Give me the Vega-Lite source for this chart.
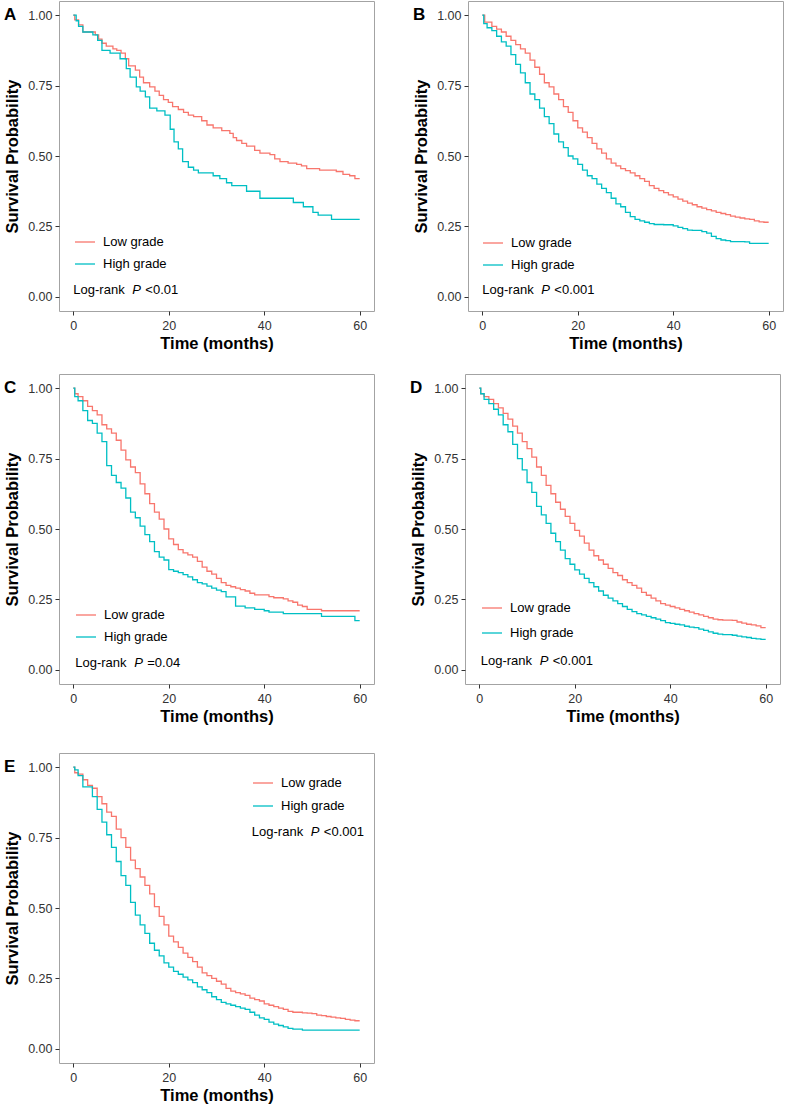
{
  "$schema": "https://vega.github.io/schema/vega-lite/v6.json",
  "padding": {"left": 3, "top": 0, "right": 0, "bottom": 0},
  "config": {
    "font": "Liberation Sans",
    "view": {"stroke": "#a3a3a3", "strokeWidth": 1},
    "axis": {"domain": false, "grid": false, "tickColor": "#333333", "tickSize": 4, "labelFont": "Liberation Sans", "labelFontSize": 12.5, "labelColor": "#333333", "titleFont": "Liberation Sans", "titleFontSize": 16.5, "titleFontWeight": "bold", "titleColor": "#000000"},
    "axisX": {"labelPadding": 4, "titlePadding": 4},
    "axisY": {"labelPadding": 3, "titlePadding": 7},
    "legend": {"symbolType": "stroke", "symbolSize": 400, "symbolStrokeWidth": 1.5, "labelFontSize": 13, "labelFont": "Liberation Sans", "labelColor": "#000000", "labelOffset": 7, "rowPadding": 4, "padding": 0},
    "line": {"interpolate": "step-after", "strokeWidth": 1.3},
    "text": {"font": "Liberation Sans", "fontSize": 13, "align": "left", "baseline": "middle", "color": "#000000"}
  },
  "datasets": {
    "A": [
      {"t":0,"s":1,"g":"Low grade"},{"t":0.3,"s":0.983,"g":"Low grade"},{"t":1.1,"s":0.965,"g":"Low grade"},{"t":2,"s":0.94,"g":"Low grade"},{"t":4.6,"s":0.93,"g":"Low grade"},{"t":5.3,"s":0.915,"g":"Low grade"},{"t":6,"s":0.9,"g":"Low grade"},{"t":6.9,"s":0.89,"g":"Low grade"},{"t":8.3,"s":0.88,"g":"Low grade"},{"t":9.1,"s":0.875,"g":"Low grade"},{"t":10,"s":0.865,"g":"Low grade"},{"t":10.9,"s":0.845,"g":"Low grade"},{"t":11.6,"s":0.82,"g":"Low grade"},{"t":13,"s":0.805,"g":"Low grade"},{"t":13.9,"s":0.78,"g":"Low grade"},{"t":14.7,"s":0.76,"g":"Low grade"},{"t":16,"s":0.745,"g":"Low grade"},{"t":17.1,"s":0.73,"g":"Low grade"},{"t":18,"s":0.715,"g":"Low grade"},{"t":18.9,"s":0.7,"g":"Low grade"},{"t":19.9,"s":0.69,"g":"Low grade"},{"t":20.8,"s":0.675,"g":"Low grade"},{"t":22,"s":0.665,"g":"Low grade"},{"t":23.1,"s":0.655,"g":"Low grade"},{"t":24.1,"s":0.645,"g":"Low grade"},{"t":25.2,"s":0.64,"g":"Low grade"},{"t":26.9,"s":0.625,"g":"Low grade"},{"t":28,"s":0.61,"g":"Low grade"},{"t":29.3,"s":0.6,"g":"Low grade"},{"t":31.1,"s":0.59,"g":"Low grade"},{"t":32.8,"s":0.58,"g":"Low grade"},{"t":33.5,"s":0.565,"g":"Low grade"},{"t":34.2,"s":0.555,"g":"Low grade"},{"t":35.3,"s":0.545,"g":"Low grade"},{"t":36.3,"s":0.535,"g":"Low grade"},{"t":38,"s":0.52,"g":"Low grade"},{"t":39.1,"s":0.51,"g":"Low grade"},{"t":41.2,"s":0.505,"g":"Low grade"},{"t":42.2,"s":0.49,"g":"Low grade"},{"t":43.3,"s":0.48,"g":"Low grade"},{"t":45,"s":0.475,"g":"Low grade"},{"t":46.8,"s":0.47,"g":"Low grade"},{"t":47.8,"s":0.465,"g":"Low grade"},{"t":48.9,"s":0.455,"g":"Low grade"},{"t":51.6,"s":0.45,"g":"Low grade"},{"t":55.1,"s":0.445,"g":"Low grade"},{"t":56.5,"s":0.435,"g":"Low grade"},{"t":57.9,"s":0.43,"g":"Low grade"},{"t":59,"s":0.42,"g":"Low grade"},{"t":60,"s":0.42,"g":"Low grade"},
      {"t":0,"s":1,"g":"High grade"},{"t":0.6,"s":0.98,"g":"High grade"},{"t":1.1,"s":0.96,"g":"High grade"},{"t":2,"s":0.94,"g":"High grade"},{"t":4.1,"s":0.93,"g":"High grade"},{"t":5.1,"s":0.91,"g":"High grade"},{"t":6,"s":0.875,"g":"High grade"},{"t":7.7,"s":0.865,"g":"High grade"},{"t":9.8,"s":0.845,"g":"High grade"},{"t":11.1,"s":0.81,"g":"High grade"},{"t":11.9,"s":0.78,"g":"High grade"},{"t":13.2,"s":0.745,"g":"High grade"},{"t":14,"s":0.73,"g":"High grade"},{"t":15.1,"s":0.71,"g":"High grade"},{"t":16,"s":0.67,"g":"High grade"},{"t":17.5,"s":0.66,"g":"High grade"},{"t":19.2,"s":0.645,"g":"High grade"},{"t":20.3,"s":0.595,"g":"High grade"},{"t":21.1,"s":0.55,"g":"High grade"},{"t":22,"s":0.525,"g":"High grade"},{"t":22.9,"s":0.48,"g":"High grade"},{"t":24.1,"s":0.46,"g":"High grade"},{"t":25.2,"s":0.45,"g":"High grade"},{"t":26.2,"s":0.44,"g":"High grade"},{"t":29.3,"s":0.43,"g":"High grade"},{"t":30.7,"s":0.42,"g":"High grade"},{"t":32.1,"s":0.405,"g":"High grade"},{"t":33.2,"s":0.395,"g":"High grade"},{"t":36.3,"s":0.375,"g":"High grade"},{"t":39.1,"s":0.35,"g":"High grade"},{"t":46.1,"s":0.335,"g":"High grade"},{"t":48.2,"s":0.32,"g":"High grade"},{"t":50.2,"s":0.3,"g":"High grade"},{"t":51.3,"s":0.29,"g":"High grade"},{"t":54.1,"s":0.275,"g":"High grade"},{"t":60,"s":0.275,"g":"High grade"}
    ],
    "B": [
      {"t":0,"s":1,"g":"Low grade"},{"t":0.5,"s":0.975,"g":"Low grade"},{"t":2,"s":0.96,"g":"Low grade"},{"t":3,"s":0.95,"g":"Low grade"},{"t":4,"s":0.94,"g":"Low grade"},{"t":5,"s":0.925,"g":"Low grade"},{"t":6,"s":0.91,"g":"Low grade"},{"t":7,"s":0.895,"g":"Low grade"},{"t":8,"s":0.88,"g":"Low grade"},{"t":9,"s":0.865,"g":"Low grade"},{"t":10,"s":0.84,"g":"Low grade"},{"t":11,"s":0.815,"g":"Low grade"},{"t":12,"s":0.79,"g":"Low grade"},{"t":13,"s":0.76,"g":"Low grade"},{"t":14,"s":0.745,"g":"Low grade"},{"t":15,"s":0.72,"g":"Low grade"},{"t":16,"s":0.7,"g":"Low grade"},{"t":17,"s":0.675,"g":"Low grade"},{"t":18,"s":0.655,"g":"Low grade"},{"t":19,"s":0.625,"g":"Low grade"},{"t":20,"s":0.6,"g":"Low grade"},{"t":21,"s":0.585,"g":"Low grade"},{"t":22,"s":0.565,"g":"Low grade"},{"t":23,"s":0.545,"g":"Low grade"},{"t":24,"s":0.525,"g":"Low grade"},{"t":25,"s":0.51,"g":"Low grade"},{"t":26,"s":0.49,"g":"Low grade"},{"t":27,"s":0.475,"g":"Low grade"},{"t":28,"s":0.465,"g":"Low grade"},{"t":29,"s":0.455,"g":"Low grade"},{"t":30,"s":0.448,"g":"Low grade"},{"t":31,"s":0.44,"g":"Low grade"},{"t":32,"s":0.43,"g":"Low grade"},{"t":33,"s":0.42,"g":"Low grade"},{"t":34,"s":0.41,"g":"Low grade"},{"t":35,"s":0.395,"g":"Low grade"},{"t":36,"s":0.385,"g":"Low grade"},{"t":37,"s":0.377,"g":"Low grade"},{"t":38,"s":0.37,"g":"Low grade"},{"t":39,"s":0.362,"g":"Low grade"},{"t":40,"s":0.355,"g":"Low grade"},{"t":41,"s":0.347,"g":"Low grade"},{"t":42,"s":0.34,"g":"Low grade"},{"t":43,"s":0.333,"g":"Low grade"},{"t":44,"s":0.327,"g":"Low grade"},{"t":45,"s":0.32,"g":"Low grade"},{"t":46,"s":0.315,"g":"Low grade"},{"t":47,"s":0.31,"g":"Low grade"},{"t":48,"s":0.305,"g":"Low grade"},{"t":49,"s":0.3,"g":"Low grade"},{"t":50,"s":0.296,"g":"Low grade"},{"t":51,"s":0.292,"g":"Low grade"},{"t":52,"s":0.287,"g":"Low grade"},{"t":53,"s":0.283,"g":"Low grade"},{"t":54,"s":0.28,"g":"Low grade"},{"t":55,"s":0.277,"g":"Low grade"},{"t":56,"s":0.275,"g":"Low grade"},{"t":57,"s":0.27,"g":"Low grade"},{"t":58,"s":0.266,"g":"Low grade"},{"t":59,"s":0.265,"g":"Low grade"},{"t":60,"s":0.265,"g":"Low grade"},
      {"t":0,"s":1,"g":"High grade"},{"t":0.3,"s":0.97,"g":"High grade"},{"t":1,"s":0.955,"g":"High grade"},{"t":2,"s":0.945,"g":"High grade"},{"t":3,"s":0.925,"g":"High grade"},{"t":4,"s":0.905,"g":"High grade"},{"t":5,"s":0.89,"g":"High grade"},{"t":6,"s":0.86,"g":"High grade"},{"t":7,"s":0.825,"g":"High grade"},{"t":8,"s":0.795,"g":"High grade"},{"t":9,"s":0.76,"g":"High grade"},{"t":10,"s":0.72,"g":"High grade"},{"t":11,"s":0.7,"g":"High grade"},{"t":12,"s":0.67,"g":"High grade"},{"t":13,"s":0.64,"g":"High grade"},{"t":14,"s":0.615,"g":"High grade"},{"t":15,"s":0.578,"g":"High grade"},{"t":16,"s":0.55,"g":"High grade"},{"t":17,"s":0.53,"g":"High grade"},{"t":18,"s":0.5,"g":"High grade"},{"t":19,"s":0.49,"g":"High grade"},{"t":20,"s":0.47,"g":"High grade"},{"t":21,"s":0.45,"g":"High grade"},{"t":22,"s":0.43,"g":"High grade"},{"t":23,"s":0.42,"g":"High grade"},{"t":24,"s":0.4,"g":"High grade"},{"t":25,"s":0.385,"g":"High grade"},{"t":26,"s":0.37,"g":"High grade"},{"t":27,"s":0.35,"g":"High grade"},{"t":28,"s":0.33,"g":"High grade"},{"t":29,"s":0.32,"g":"High grade"},{"t":30,"s":0.3,"g":"High grade"},{"t":31,"s":0.285,"g":"High grade"},{"t":32,"s":0.275,"g":"High grade"},{"t":33,"s":0.27,"g":"High grade"},{"t":34,"s":0.265,"g":"High grade"},{"t":35,"s":0.26,"g":"High grade"},{"t":36,"s":0.257,"g":"High grade"},{"t":38,"s":0.256,"g":"High grade"},{"t":40,"s":0.252,"g":"High grade"},{"t":41,"s":0.247,"g":"High grade"},{"t":42,"s":0.242,"g":"High grade"},{"t":43,"s":0.237,"g":"High grade"},{"t":44,"s":0.236,"g":"High grade"},{"t":46,"s":0.232,"g":"High grade"},{"t":47,"s":0.226,"g":"High grade"},{"t":48,"s":0.215,"g":"High grade"},{"t":49,"s":0.207,"g":"High grade"},{"t":50,"s":0.202,"g":"High grade"},{"t":51,"s":0.2,"g":"High grade"},{"t":52,"s":0.196,"g":"High grade"},{"t":55,"s":0.195,"g":"High grade"},{"t":56,"s":0.19,"g":"High grade"},{"t":60,"s":0.19,"g":"High grade"}
    ],
    "C": [
      {"t":0,"s":1,"g":"Low grade"},{"t":0.3,"s":0.98,"g":"Low grade"},{"t":1,"s":0.97,"g":"Low grade"},{"t":2,"s":0.955,"g":"Low grade"},{"t":3,"s":0.935,"g":"Low grade"},{"t":4,"s":0.92,"g":"Low grade"},{"t":5,"s":0.905,"g":"Low grade"},{"t":6,"s":0.87,"g":"Low grade"},{"t":7,"s":0.855,"g":"Low grade"},{"t":8,"s":0.84,"g":"Low grade"},{"t":9,"s":0.815,"g":"Low grade"},{"t":10,"s":0.78,"g":"Low grade"},{"t":11,"s":0.745,"g":"Low grade"},{"t":12,"s":0.72,"g":"Low grade"},{"t":13,"s":0.7,"g":"Low grade"},{"t":14,"s":0.66,"g":"Low grade"},{"t":15,"s":0.625,"g":"Low grade"},{"t":16,"s":0.59,"g":"Low grade"},{"t":17,"s":0.56,"g":"Low grade"},{"t":18,"s":0.535,"g":"Low grade"},{"t":19,"s":0.5,"g":"Low grade"},{"t":20,"s":0.465,"g":"Low grade"},{"t":21,"s":0.445,"g":"Low grade"},{"t":22,"s":0.427,"g":"Low grade"},{"t":23,"s":0.415,"g":"Low grade"},{"t":24,"s":0.408,"g":"Low grade"},{"t":25,"s":0.4,"g":"Low grade"},{"t":26,"s":0.385,"g":"Low grade"},{"t":27,"s":0.365,"g":"Low grade"},{"t":28,"s":0.35,"g":"Low grade"},{"t":29,"s":0.34,"g":"Low grade"},{"t":30,"s":0.325,"g":"Low grade"},{"t":31,"s":0.31,"g":"Low grade"},{"t":32,"s":0.3,"g":"Low grade"},{"t":33,"s":0.295,"g":"Low grade"},{"t":34,"s":0.29,"g":"Low grade"},{"t":35,"s":0.285,"g":"Low grade"},{"t":36,"s":0.28,"g":"Low grade"},{"t":37,"s":0.272,"g":"Low grade"},{"t":38,"s":0.266,"g":"Low grade"},{"t":41,"s":0.26,"g":"Low grade"},{"t":42,"s":0.256,"g":"Low grade"},{"t":44,"s":0.252,"g":"Low grade"},{"t":45,"s":0.245,"g":"Low grade"},{"t":46,"s":0.24,"g":"Low grade"},{"t":47,"s":0.23,"g":"Low grade"},{"t":48,"s":0.225,"g":"Low grade"},{"t":49,"s":0.215,"g":"Low grade"},{"t":52,"s":0.21,"g":"Low grade"},{"t":60,"s":0.21,"g":"Low grade"},
      {"t":0,"s":1,"g":"High grade"},{"t":0.3,"s":0.97,"g":"High grade"},{"t":1,"s":0.955,"g":"High grade"},{"t":2,"s":0.92,"g":"High grade"},{"t":3,"s":0.885,"g":"High grade"},{"t":4,"s":0.875,"g":"High grade"},{"t":5,"s":0.84,"g":"High grade"},{"t":6,"s":0.81,"g":"High grade"},{"t":7,"s":0.725,"g":"High grade"},{"t":8,"s":0.69,"g":"High grade"},{"t":9,"s":0.665,"g":"High grade"},{"t":10,"s":0.645,"g":"High grade"},{"t":11,"s":0.61,"g":"High grade"},{"t":12,"s":0.56,"g":"High grade"},{"t":13,"s":0.54,"g":"High grade"},{"t":14,"s":0.51,"g":"High grade"},{"t":15,"s":0.48,"g":"High grade"},{"t":16,"s":0.455,"g":"High grade"},{"t":17,"s":0.42,"g":"High grade"},{"t":18,"s":0.4,"g":"High grade"},{"t":19,"s":0.39,"g":"High grade"},{"t":20,"s":0.356,"g":"High grade"},{"t":21,"s":0.35,"g":"High grade"},{"t":22,"s":0.345,"g":"High grade"},{"t":23,"s":0.338,"g":"High grade"},{"t":24,"s":0.33,"g":"High grade"},{"t":25,"s":0.32,"g":"High grade"},{"t":26,"s":0.31,"g":"High grade"},{"t":27,"s":0.305,"g":"High grade"},{"t":28,"s":0.297,"g":"High grade"},{"t":29,"s":0.29,"g":"High grade"},{"t":30,"s":0.283,"g":"High grade"},{"t":31,"s":0.278,"g":"High grade"},{"t":32,"s":0.259,"g":"High grade"},{"t":34,"s":0.226,"g":"High grade"},{"t":36,"s":0.22,"g":"High grade"},{"t":38,"s":0.215,"g":"High grade"},{"t":40,"s":0.21,"g":"High grade"},{"t":41,"s":0.205,"g":"High grade"},{"t":44,"s":0.2,"g":"High grade"},{"t":52,"s":0.19,"g":"High grade"},{"t":59,"s":0.175,"g":"High grade"},{"t":60,"s":0.175,"g":"High grade"}
    ],
    "D": [
      {"t":0,"s":1,"g":"Low grade"},{"t":0.3,"s":0.98,"g":"Low grade"},{"t":1,"s":0.97,"g":"Low grade"},{"t":2,"s":0.96,"g":"Low grade"},{"t":3,"s":0.945,"g":"Low grade"},{"t":4,"s":0.93,"g":"Low grade"},{"t":5,"s":0.91,"g":"Low grade"},{"t":6,"s":0.89,"g":"Low grade"},{"t":7,"s":0.865,"g":"Low grade"},{"t":8,"s":0.84,"g":"Low grade"},{"t":9,"s":0.81,"g":"Low grade"},{"t":10,"s":0.785,"g":"Low grade"},{"t":11,"s":0.755,"g":"Low grade"},{"t":12,"s":0.72,"g":"Low grade"},{"t":13,"s":0.69,"g":"Low grade"},{"t":14,"s":0.655,"g":"Low grade"},{"t":15,"s":0.625,"g":"Low grade"},{"t":16,"s":0.595,"g":"Low grade"},{"t":17,"s":0.57,"g":"Low grade"},{"t":18,"s":0.545,"g":"Low grade"},{"t":19,"s":0.52,"g":"Low grade"},{"t":20,"s":0.495,"g":"Low grade"},{"t":21,"s":0.475,"g":"Low grade"},{"t":22,"s":0.45,"g":"Low grade"},{"t":23,"s":0.425,"g":"Low grade"},{"t":24,"s":0.405,"g":"Low grade"},{"t":25,"s":0.39,"g":"Low grade"},{"t":26,"s":0.375,"g":"Low grade"},{"t":27,"s":0.36,"g":"Low grade"},{"t":28,"s":0.345,"g":"Low grade"},{"t":29,"s":0.335,"g":"Low grade"},{"t":30,"s":0.32,"g":"Low grade"},{"t":31,"s":0.31,"g":"Low grade"},{"t":32,"s":0.3,"g":"Low grade"},{"t":33,"s":0.29,"g":"Low grade"},{"t":34,"s":0.275,"g":"Low grade"},{"t":35,"s":0.265,"g":"Low grade"},{"t":36,"s":0.255,"g":"Low grade"},{"t":37,"s":0.245,"g":"Low grade"},{"t":38,"s":0.235,"g":"Low grade"},{"t":39,"s":0.23,"g":"Low grade"},{"t":40,"s":0.225,"g":"Low grade"},{"t":41,"s":0.22,"g":"Low grade"},{"t":42,"s":0.215,"g":"Low grade"},{"t":43,"s":0.21,"g":"Low grade"},{"t":44,"s":0.205,"g":"Low grade"},{"t":45,"s":0.2,"g":"Low grade"},{"t":46,"s":0.195,"g":"Low grade"},{"t":47,"s":0.19,"g":"Low grade"},{"t":48,"s":0.185,"g":"Low grade"},{"t":49,"s":0.18,"g":"Low grade"},{"t":50,"s":0.178,"g":"Low grade"},{"t":51,"s":0.177,"g":"Low grade"},{"t":53,"s":0.176,"g":"Low grade"},{"t":54,"s":0.17,"g":"Low grade"},{"t":55,"s":0.166,"g":"Low grade"},{"t":56,"s":0.162,"g":"Low grade"},{"t":57,"s":0.16,"g":"Low grade"},{"t":58,"s":0.156,"g":"Low grade"},{"t":59,"s":0.15,"g":"Low grade"},{"t":60,"s":0.15,"g":"Low grade"},
      {"t":0,"s":1,"g":"High grade"},{"t":0.3,"s":0.98,"g":"High grade"},{"t":1,"s":0.96,"g":"High grade"},{"t":2,"s":0.945,"g":"High grade"},{"t":3,"s":0.925,"g":"High grade"},{"t":4,"s":0.905,"g":"High grade"},{"t":5,"s":0.87,"g":"High grade"},{"t":6,"s":0.845,"g":"High grade"},{"t":7,"s":0.8,"g":"High grade"},{"t":8,"s":0.75,"g":"High grade"},{"t":9,"s":0.71,"g":"High grade"},{"t":10,"s":0.665,"g":"High grade"},{"t":11,"s":0.63,"g":"High grade"},{"t":12,"s":0.58,"g":"High grade"},{"t":13,"s":0.55,"g":"High grade"},{"t":14,"s":0.52,"g":"High grade"},{"t":15,"s":0.485,"g":"High grade"},{"t":16,"s":0.455,"g":"High grade"},{"t":17,"s":0.425,"g":"High grade"},{"t":18,"s":0.395,"g":"High grade"},{"t":19,"s":0.375,"g":"High grade"},{"t":20,"s":0.355,"g":"High grade"},{"t":21,"s":0.34,"g":"High grade"},{"t":22,"s":0.325,"g":"High grade"},{"t":23,"s":0.31,"g":"High grade"},{"t":24,"s":0.295,"g":"High grade"},{"t":25,"s":0.28,"g":"High grade"},{"t":26,"s":0.265,"g":"High grade"},{"t":27,"s":0.255,"g":"High grade"},{"t":28,"s":0.245,"g":"High grade"},{"t":29,"s":0.235,"g":"High grade"},{"t":30,"s":0.225,"g":"High grade"},{"t":31,"s":0.215,"g":"High grade"},{"t":32,"s":0.207,"g":"High grade"},{"t":33,"s":0.2,"g":"High grade"},{"t":34,"s":0.195,"g":"High grade"},{"t":35,"s":0.19,"g":"High grade"},{"t":36,"s":0.185,"g":"High grade"},{"t":37,"s":0.18,"g":"High grade"},{"t":38,"s":0.175,"g":"High grade"},{"t":39,"s":0.168,"g":"High grade"},{"t":40,"s":0.165,"g":"High grade"},{"t":41,"s":0.162,"g":"High grade"},{"t":42,"s":0.16,"g":"High grade"},{"t":43,"s":0.155,"g":"High grade"},{"t":44,"s":0.152,"g":"High grade"},{"t":45,"s":0.15,"g":"High grade"},{"t":46,"s":0.145,"g":"High grade"},{"t":47,"s":0.14,"g":"High grade"},{"t":48,"s":0.135,"g":"High grade"},{"t":49,"s":0.13,"g":"High grade"},{"t":50,"s":0.127,"g":"High grade"},{"t":51,"s":0.125,"g":"High grade"},{"t":53,"s":0.123,"g":"High grade"},{"t":54,"s":0.12,"g":"High grade"},{"t":55,"s":0.117,"g":"High grade"},{"t":56,"s":0.115,"g":"High grade"},{"t":57,"s":0.112,"g":"High grade"},{"t":58,"s":0.11,"g":"High grade"},{"t":59,"s":0.108,"g":"High grade"},{"t":60,"s":0.108,"g":"High grade"}
    ],
    "E": [
      {"t":0,"s":1,"g":"Low grade"},{"t":0.3,"s":0.98,"g":"Low grade"},{"t":1,"s":0.975,"g":"Low grade"},{"t":2,"s":0.955,"g":"Low grade"},{"t":3,"s":0.935,"g":"Low grade"},{"t":4,"s":0.925,"g":"Low grade"},{"t":5,"s":0.895,"g":"Low grade"},{"t":6,"s":0.87,"g":"Low grade"},{"t":7,"s":0.84,"g":"Low grade"},{"t":8,"s":0.825,"g":"Low grade"},{"t":9,"s":0.78,"g":"Low grade"},{"t":10,"s":0.75,"g":"Low grade"},{"t":11,"s":0.715,"g":"Low grade"},{"t":12,"s":0.67,"g":"Low grade"},{"t":13,"s":0.64,"g":"Low grade"},{"t":14,"s":0.61,"g":"Low grade"},{"t":15,"s":0.58,"g":"Low grade"},{"t":16,"s":0.55,"g":"Low grade"},{"t":17,"s":0.505,"g":"Low grade"},{"t":18,"s":0.47,"g":"Low grade"},{"t":19,"s":0.44,"g":"Low grade"},{"t":20,"s":0.4,"g":"Low grade"},{"t":21,"s":0.38,"g":"Low grade"},{"t":22,"s":0.36,"g":"Low grade"},{"t":23,"s":0.34,"g":"Low grade"},{"t":24,"s":0.325,"g":"Low grade"},{"t":25,"s":0.31,"g":"Low grade"},{"t":26,"s":0.29,"g":"Low grade"},{"t":27,"s":0.27,"g":"Low grade"},{"t":28,"s":0.26,"g":"Low grade"},{"t":29,"s":0.25,"g":"Low grade"},{"t":30,"s":0.24,"g":"Low grade"},{"t":31,"s":0.23,"g":"Low grade"},{"t":32,"s":0.215,"g":"Low grade"},{"t":33,"s":0.205,"g":"Low grade"},{"t":34,"s":0.2,"g":"Low grade"},{"t":35,"s":0.195,"g":"Low grade"},{"t":36,"s":0.19,"g":"Low grade"},{"t":37,"s":0.18,"g":"Low grade"},{"t":38,"s":0.175,"g":"Low grade"},{"t":39,"s":0.17,"g":"Low grade"},{"t":40,"s":0.16,"g":"Low grade"},{"t":41,"s":0.155,"g":"Low grade"},{"t":42,"s":0.15,"g":"Low grade"},{"t":43,"s":0.145,"g":"Low grade"},{"t":44,"s":0.14,"g":"Low grade"},{"t":45,"s":0.133,"g":"Low grade"},{"t":46,"s":0.13,"g":"Low grade"},{"t":48,"s":0.128,"g":"Low grade"},{"t":49,"s":0.127,"g":"Low grade"},{"t":50,"s":0.125,"g":"Low grade"},{"t":51,"s":0.12,"g":"Low grade"},{"t":52,"s":0.118,"g":"Low grade"},{"t":53,"s":0.115,"g":"Low grade"},{"t":54,"s":0.113,"g":"Low grade"},{"t":55,"s":0.11,"g":"Low grade"},{"t":56,"s":0.108,"g":"Low grade"},{"t":57,"s":0.105,"g":"Low grade"},{"t":58,"s":0.102,"g":"Low grade"},{"t":59,"s":0.1,"g":"Low grade"},{"t":60,"s":0.1,"g":"Low grade"},
      {"t":0,"s":1,"g":"High grade"},{"t":0.3,"s":0.99,"g":"High grade"},{"t":1,"s":0.97,"g":"High grade"},{"t":2,"s":0.93,"g":"High grade"},{"t":4,"s":0.895,"g":"High grade"},{"t":5,"s":0.85,"g":"High grade"},{"t":6,"s":0.805,"g":"High grade"},{"t":7,"s":0.76,"g":"High grade"},{"t":8,"s":0.715,"g":"High grade"},{"t":9,"s":0.665,"g":"High grade"},{"t":10,"s":0.615,"g":"High grade"},{"t":11,"s":0.58,"g":"High grade"},{"t":12,"s":0.52,"g":"High grade"},{"t":13,"s":0.475,"g":"High grade"},{"t":14,"s":0.44,"g":"High grade"},{"t":15,"s":0.41,"g":"High grade"},{"t":16,"s":0.375,"g":"High grade"},{"t":17,"s":0.35,"g":"High grade"},{"t":18,"s":0.33,"g":"High grade"},{"t":19,"s":0.305,"g":"High grade"},{"t":20,"s":0.29,"g":"High grade"},{"t":21,"s":0.275,"g":"High grade"},{"t":22,"s":0.265,"g":"High grade"},{"t":23,"s":0.255,"g":"High grade"},{"t":24,"s":0.245,"g":"High grade"},{"t":25,"s":0.235,"g":"High grade"},{"t":26,"s":0.22,"g":"High grade"},{"t":27,"s":0.21,"g":"High grade"},{"t":28,"s":0.2,"g":"High grade"},{"t":29,"s":0.185,"g":"High grade"},{"t":30,"s":0.175,"g":"High grade"},{"t":31,"s":0.165,"g":"High grade"},{"t":32,"s":0.16,"g":"High grade"},{"t":33,"s":0.155,"g":"High grade"},{"t":34,"s":0.15,"g":"High grade"},{"t":35,"s":0.145,"g":"High grade"},{"t":36,"s":0.14,"g":"High grade"},{"t":37,"s":0.13,"g":"High grade"},{"t":38,"s":0.12,"g":"High grade"},{"t":39,"s":0.11,"g":"High grade"},{"t":40,"s":0.105,"g":"High grade"},{"t":41,"s":0.095,"g":"High grade"},{"t":42,"s":0.088,"g":"High grade"},{"t":43,"s":0.083,"g":"High grade"},{"t":44,"s":0.078,"g":"High grade"},{"t":45,"s":0.073,"g":"High grade"},{"t":46,"s":0.07,"g":"High grade"},{"t":48,"s":0.067,"g":"High grade"},{"t":60,"s":0.067,"g":"High grade"}
    ]
  },
  "resolve": {"scale": {"color": "independent", "x": "independent", "y": "independent"}, "legend": {"color": "independent"}},
  "spacing": 26,
  "vconcat": [
    {
      "resolve": {"scale": {"color": "independent", "x": "independent", "y": "independent"}, "legend": {"color": "independent"}},
      "spacing": 20,
      "vconcat": [
        {
          "resolve": {"scale": {"color": "independent", "x": "independent", "y": "independent"}, "legend": {"color": "independent"}},
          "spacing": 37,
          "hconcat": [
            {
              "width": 315, "height": 310,
              "layer": [
                {"data": {"name": "A"}, "mark": "line", "encoding": {
                  "x": {"field": "t", "type": "quantitative", "scale": {"domain": [-3, 63], "nice": false, "zero": false}, "axis": {"values": [0, 20, 40, 60], "title": "Time (months)"}},
                  "y": {"field": "s", "type": "quantitative", "scale": {"domain": [-0.05, 1.05], "nice": false, "zero": false}, "axis": {"values": [0, 0.25, 0.5, 0.75, 1], "format": ".2f", "title": "Survival Probability"}},
                  "color": {"field": "g", "type": "nominal", "scale": {"domain": ["Low grade", "High grade"], "range": ["#F8766D", "#00BFC4"]}, "legend": {"title": null, "orient": "none", "legendX": 15, "legendY": 230}}}},
                {"data": {"values": [{}]}, "mark": {"type": "text", "text": "A", "fontSize": 17, "fontWeight": "bold"}, "encoding": {"x": {"datum": -14.5}, "y": {"datum": 1}}},
                {"data": {"values": [{}]}, "mark": {"type": "text", "text": "Log-rank"}, "encoding": {"x": {"datum": 0}, "y": {"datum": 0.024}}},
                {"data": {"values": [{}]}, "mark": {"type": "text", "text": "P", "fontStyle": "italic", "dx": 59}, "encoding": {"x": {"datum": 0}, "y": {"datum": 0.024}}},
                {"data": {"values": [{}]}, "mark": {"type": "text", "text": "<0.01", "dx": 72}, "encoding": {"x": {"datum": 0}, "y": {"datum": 0.024}}}
              ]
            },
            {
              "width": 315, "height": 310,
              "layer": [
                {"data": {"name": "B"}, "mark": "line", "encoding": {
                  "x": {"field": "t", "type": "quantitative", "scale": {"domain": [-3, 63], "nice": false, "zero": false}, "axis": {"values": [0, 20, 40, 60], "title": "Time (months)"}},
                  "y": {"field": "s", "type": "quantitative", "scale": {"domain": [-0.05, 1.05], "nice": false, "zero": false}, "axis": {"values": [0, 0.25, 0.5, 0.75, 1], "format": ".2f", "title": "Survival Probability"}},
                  "color": {"field": "g", "type": "nominal", "scale": {"domain": ["Low grade", "High grade"], "range": ["#F8766D", "#00BFC4"]}, "legend": {"title": null, "orient": "none", "legendX": 14, "legendY": 231}}}},
                {"data": {"values": [{}]}, "mark": {"type": "text", "text": "B", "fontSize": 17, "fontWeight": "bold"}, "encoding": {"x": {"datum": -14.5}, "y": {"datum": 1}}},
                {"data": {"values": [{}]}, "mark": {"type": "text", "text": "Log-rank"}, "encoding": {"x": {"datum": 0}, "y": {"datum": 0.026}}},
                {"data": {"values": [{}]}, "mark": {"type": "text", "text": "P", "fontStyle": "italic", "dx": 59}, "encoding": {"x": {"datum": 0}, "y": {"datum": 0.026}}},
                {"data": {"values": [{}]}, "mark": {"type": "text", "text": "<0.001", "dx": 72}, "encoding": {"x": {"datum": 0}, "y": {"datum": 0.026}}}
              ]
            }
          ]
        },
        {
          "resolve": {"scale": {"color": "independent", "x": "independent", "y": "independent"}, "legend": {"color": "independent"}},
          "spacing": 34,
          "hconcat": [
            {
              "width": 315, "height": 310,
              "layer": [
                {"data": {"name": "C"}, "mark": "line", "encoding": {
                  "x": {"field": "t", "type": "quantitative", "scale": {"domain": [-3, 63], "nice": false, "zero": false}, "axis": {"values": [0, 20, 40, 60], "title": "Time (months)"}},
                  "y": {"field": "s", "type": "quantitative", "scale": {"domain": [-0.05, 1.05], "nice": false, "zero": false}, "axis": {"values": [0, 0.25, 0.5, 0.75, 1], "format": ".2f", "title": "Survival Probability"}},
                  "color": {"field": "g", "type": "nominal", "scale": {"domain": ["Low grade", "High grade"], "range": ["#F8766D", "#00BFC4"]}, "legend": {"title": null, "orient": "none", "legendX": 16, "legendY": 230}}}},
                {"data": {"values": [{}]}, "mark": {"type": "text", "text": "C", "fontSize": 17, "fontWeight": "bold"}, "encoding": {"x": {"datum": -14.5}, "y": {"datum": 1}}},
                {"data": {"values": [{}]}, "mark": {"type": "text", "text": "Log-rank"}, "encoding": {"x": {"datum": 0.4}, "y": {"datum": 0.024}}},
                {"data": {"values": [{}]}, "mark": {"type": "text", "text": "P", "fontStyle": "italic", "dx": 59}, "encoding": {"x": {"datum": 0.4}, "y": {"datum": 0.024}}},
                {"data": {"values": [{}]}, "mark": {"type": "text", "text": "=0.04", "dx": 72}, "encoding": {"x": {"datum": 0.4}, "y": {"datum": 0.024}}}
              ]
            },
            {
              "width": 315, "height": 310,
              "layer": [
                {"data": {"name": "D"}, "mark": "line", "encoding": {
                  "x": {"field": "t", "type": "quantitative", "scale": {"domain": [-3, 63], "nice": false, "zero": false}, "axis": {"values": [0, 20, 40, 60], "title": "Time (months)"}},
                  "y": {"field": "s", "type": "quantitative", "scale": {"domain": [-0.05, 1.05], "nice": false, "zero": false}, "axis": {"values": [0, 0.25, 0.5, 0.75, 1], "format": ".2f", "title": "Survival Probability"}},
                  "color": {"field": "g", "type": "nominal", "scale": {"domain": ["Low grade", "High grade"], "range": ["#F8766D", "#00BFC4"]}, "legend": {"title": null, "orient": "none", "legendX": 16, "legendY": 223, "rowPadding": 7}}}},
                {"data": {"values": [{}]}, "mark": {"type": "text", "text": "D", "fontSize": 17, "fontWeight": "bold"}, "encoding": {"x": {"datum": -14.5}, "y": {"datum": 1}}},
                {"data": {"values": [{}]}, "mark": {"type": "text", "text": "Log-rank"}, "encoding": {"x": {"datum": 0.3}, "y": {"datum": 0.033}}},
                {"data": {"values": [{}]}, "mark": {"type": "text", "text": "P", "fontStyle": "italic", "dx": 59}, "encoding": {"x": {"datum": 0.3}, "y": {"datum": 0.033}}},
                {"data": {"values": [{}]}, "mark": {"type": "text", "text": "<0.001", "dx": 72}, "encoding": {"x": {"datum": 0.3}, "y": {"datum": 0.033}}}
              ]
            }
          ]
        }
      ]
    },
    {
      "width": 315, "height": 310,
      "layer": [
        {"data": {"name": "E"}, "mark": "line", "encoding": {
          "x": {"field": "t", "type": "quantitative", "scale": {"domain": [-3, 63], "nice": false, "zero": false}, "axis": {"values": [0, 20, 40, 60], "title": "Time (months)"}},
          "y": {"field": "s", "type": "quantitative", "scale": {"domain": [-0.05, 1.05], "nice": false, "zero": false}, "axis": {"values": [0, 0.25, 0.5, 0.75, 1], "format": ".2f", "title": "Survival Probability"}},
          "color": {"field": "g", "type": "nominal", "scale": {"domain": ["Low grade", "High grade"], "range": ["#F8766D", "#00BFC4"]}, "legend": {"title": null, "orient": "none", "legendX": 193, "legendY": 19, "rowPadding": 5}}}},
        {"data": {"values": [{}]}, "mark": {"type": "text", "text": "E", "fontSize": 17, "fontWeight": "bold"}, "encoding": {"x": {"datum": -14.5}, "y": {"datum": 1}}},
        {"data": {"values": [{}]}, "mark": {"type": "text", "text": "Log-rank"}, "encoding": {"x": {"datum": 37.4}, "y": {"datum": 0.768}}},
        {"data": {"values": [{}]}, "mark": {"type": "text", "text": "P", "fontStyle": "italic", "dx": 59}, "encoding": {"x": {"datum": 37.4}, "y": {"datum": 0.768}}},
        {"data": {"values": [{}]}, "mark": {"type": "text", "text": "<0.001", "dx": 72}, "encoding": {"x": {"datum": 37.4}, "y": {"datum": 0.768}}}
      ]
    }
  ]
}
